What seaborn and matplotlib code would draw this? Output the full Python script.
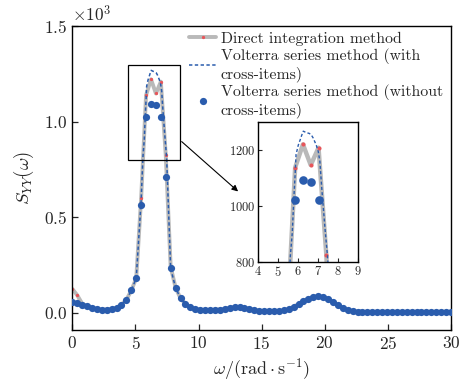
import numpy as np
import pandas as pd
import matplotlib
matplotlib.use("Agg")
import matplotlib.pyplot as plt
from matplotlib.patches import Rectangle
import seaborn as sns

# ---------------- data ----------------
omega = np.linspace(0, 30, 78)

# Volterra series method (without cross-items) -- dots
S_without = [55, 50, 42, 33, 26, 19, 17, 17, 19, 27,
             42, 68, 117, 181, 562, 1022, 1092, 1085, 1024, 710,
             232, 131, 76, 47, 29, 19, 16, 14, 14, 16,
             17, 20, 25, 30, 30, 26, 21, 15, 10, 8,
             7, 7, 8, 12, 20, 32, 46, 60, 74, 83,
             87, 84, 72, 55, 40, 25, 14, 8, 6, 5,
             5, 5, 5, 5, 5, 5, 5, 5, 5, 5,
             5, 5, 5, 5, 5, 5, 5, 5]

# Direct integration method -- grey line
S_direct = [125, 92, 48, 33, 26, 19, 17, 17, 19, 27,
            42, 68, 117, 181, 600, 1138, 1221, 1147, 1209, 826,
            240, 131, 76, 47, 29, 19, 16, 14, 14, 16,
            17, 20, 25, 30, 30, 26, 21, 15, 10, 8,
            7, 7, 8, 12, 20, 32, 46, 60, 74, 83,
            87, 84, 72, 55, 40, 25, 14, 8, 6, 5,
            5, 5, 5, 5, 5, 5, 5, 5, 5, 5,
            5, 5, 5, 5, 5, 5, 5, 5]

# Volterra series method (with cross-items) -- finer samples around the peak
omega_peak = [5.45, 5.60, 5.70, 5.78, 5.84, 5.89, 6.00, 6.10, 6.17, 6.25, 6.40,
              6.55, 6.65, 6.75, 6.90, 7.00, 7.08, 7.17, 7.25, 7.33, 7.40, 7.47]
S_with_peak = [585, 820, 905, 1030, 1110, 1185, 1218, 1238, 1253, 1268, 1263,
               1260, 1255, 1243, 1218, 1195, 1160, 1068, 997, 926, 870, 814]

omega_with = list(omega[:14]) + omega_peak + list(omega[20:])
S_with = S_without[:14] + S_with_peak + S_without[20:]

labels = ["Direct integration method",
          "Volterra series method (with\ncross-items)",
          "Volterra series method (without\ncross-items)"]

df_direct = pd.DataFrame({"w": omega, "S": S_direct})
df_with = pd.DataFrame({"w": omega_with, "S": S_with})
df_without = pd.DataFrame({"w": omega, "S": S_without})

# ---------------- style ----------------
sns.set_theme(style="ticks")
plt.rcParams.update({
    "font.family": "serif",
    "font.serif": ["cmr10", "DejaVu Serif"],
    "mathtext.fontset": "cm",
    "axes.formatter.use_mathtext": True,
    "axes.unicode_minus": False,
    "xtick.direction": "in",
    "ytick.direction": "in",
    "axes.edgecolor": "black",
    "axes.linewidth": 1.0,
})

GREY = "#b9b9b9"
RED = "#e8555a"
BLUE = "#2a5cad"

fig = plt.figure(figsize=(4.62, 3.88), dpi=100)
ax = fig.add_axes([0.1565, 0.1495, 0.8197, 0.7835])


def draw(a, ms_dot, lw_grey, ms_red, lw_dash):
    sns.lineplot(data=df_direct, x="w", y="S", ax=a, color=GREY, lw=lw_grey,
                 marker="o", markersize=ms_red, markerfacecolor=RED,
                 markeredgecolor=RED, sort=False, estimator=None, zorder=2,
                 label=labels[0])
    sns.lineplot(data=df_with, x="w", y="S", ax=a, color=BLUE, lw=lw_dash,
                 linestyle=(0, (2.2, 1.6)), sort=False, estimator=None,
                 zorder=3, label=labels[1])
    sns.lineplot(data=df_without, x="w", y="S", ax=a, color=BLUE,
                 linestyle="none", marker="o", markersize=ms_dot,
                 markeredgewidth=0, sort=False, estimator=None, zorder=4,
                 label=labels[2])


draw(ax, 5.2, 2.8, 1.6, 1.1)
ax.set_xlim(0, 30)
ax.set_ylim(-90, 1500)
ax.set_xticks([0, 5, 10, 15, 20, 25, 30])
ax.set_yticks([0, 500, 1000, 1500])
ax.ticklabel_format(style="sci", axis="y", scilimits=(0, 0), useMathText=True)
ax.tick_params(labelsize=12.5, length=4, width=0.9, top=False, right=False)
ax.yaxis.get_offset_text().set_fontsize(12.5)
ax.set_xlabel(r"$\omega/(\mathrm{rad\cdot s^{-1}})$", fontsize=13, labelpad=3)
ax.set_ylabel(r"$S_{YY}(\omega)$", fontsize=13.5, labelpad=6)

leg = ax.legend(loc="upper right", bbox_to_anchor=(1.0, 1.008), frameon=False,
                fontsize=11.4, handlelength=1.7, handletextpad=0.3,
                labelspacing=0.15, borderaxespad=0.1, numpoints=1)

# zoom rectangle and arrow
ax.add_patch(Rectangle((4.4, 800), 4.1, 495, fill=False, ec="black", lw=0.9,
                       zorder=5))
ax.annotate("", xy=(13.3, 625), xytext=(8.5, 905),
            arrowprops=dict(arrowstyle="-|>", color="black", lw=0.8,
                            mutation_scale=9), zorder=5)

# inset
axin = fig.add_axes([0.559, 0.324, 0.2165, 0.361])
draw(axin, 6.2, 3.2, 2.2, 1.0)
if axin.get_legend():
    axin.get_legend().remove()
axin.set_xlim(4, 9)
axin.set_ylim(800, 1300)
axin.set_xticks([4, 5, 6, 7, 8, 9])
axin.set_yticks([800, 1000, 1200])
axin.set_xlabel("")
axin.set_ylabel("")
axin.tick_params(labelsize=9, length=3, width=0.8, pad=2)

fig.savefig("out.png", dpi=100)
